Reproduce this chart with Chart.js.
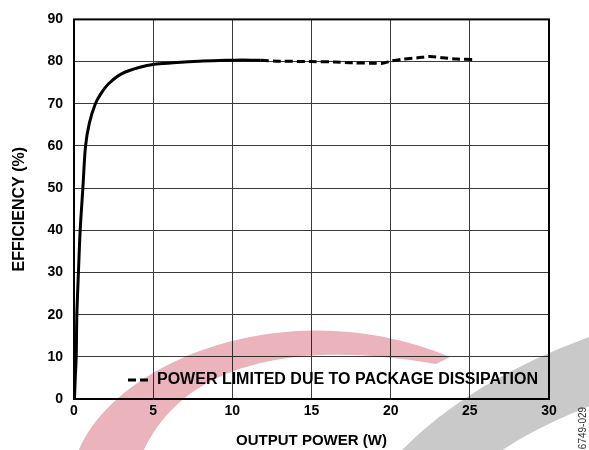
<!DOCTYPE html>
<html>
<head>
<meta charset="utf-8">
<script src="https://cdn.jsdelivr.net/npm/chart.js@4.4.0/dist/chart.umd.min.js"></script>
<style>
  html, body { margin: 0; padding: 0; background: #fff; }
  #wrap { width: 589px; height: 450px; }
</style>
</head>
<body>
<div id="wrap"><canvas id="myChart" width="589" height="450"></canvas></div>
<script>
// Valores (potência em W, eficiência em %)
const potenciaNormal = [0.03, 0.08, 0.14, 0.18, 0.28, 0.39, 0.56, 0.73, 0.97, 1.35, 1.7, 2.2, 3.0, 4.1, 5.2, 6.5, 7.9, 9.6, 10.6, 11.8];
const eficienciaNormal = [0, 5, 10, 20, 30, 40, 50, 60, 65.4, 70, 72.4, 74.8, 77.1, 78.6, 79.4, 79.8, 80.1, 80.3, 80.4, 80.3];

const potenciaLimitada = [11.8, 13, 15, 16.5, 17.6, 19, 19.5, 20, 20.8, 21.7, 22.5, 23.3, 24.2, 25.2];
const eficienciaLimitada = [80.3, 80.1, 80.0, 79.9, 79.7, 79.6, 79.6, 80.1, 80.6, 80.9, 81.2, 80.9, 80.6, 80.5];

const ticksX = [0, 5, 10, 15, 20, 25, 30];
const ticksY = [0, 10, 20, 30, 40, 50, 60, 70, 80, 90];

const tituloX = 'OUTPUT POWER (W)';
const tituloY = 'EFFICIENCY (%)';
const legendaTexto = 'POWER LIMITED DUE TO PACKAGE DISSIPATION';
const codigoFigura = '6749-029';

function juntar(xs, ys) {
  return xs.map((x, i) => ({ x: x, y: ys[i] }));
}

// Moldura, legenda dentro do gráfico, código da figura e marca d'água
const extras = {
  id: 'extras',
  afterDraw(chart) {
    const ctx = chart.ctx;
    const a = chart.chartArea;
    ctx.save();
    ctx.strokeStyle = '#000';
    ctx.lineWidth = 2;
    ctx.strokeRect(a.left, a.top, a.right - a.left, a.bottom - a.top);

    // legenda
    const ly = chart.scales.y.getPixelForValue(4.5);
    ctx.lineWidth = 3;
    ctx.setLineDash([8, 4]);
    ctx.beginPath();
    ctx.moveTo(128, ly);
    ctx.lineTo(151, ly);
    ctx.stroke();
    ctx.setLineDash([]);
    ctx.fillStyle = '#000';
    ctx.font = 'bold 16px "Liberation Sans", Arial, sans-serif';
    ctx.textBaseline = 'middle';
    ctx.textAlign = 'left';
    ctx.fillText(legendaTexto, 157, ly);

    // código
    ctx.translate(583, 428);
    ctx.rotate(-Math.PI / 2);
    ctx.font = '10px "Liberation Sans", Arial, sans-serif';
    ctx.fillStyle = '#333';
    ctx.textAlign = 'center';
    ctx.fillText(codigoFigura, 0, 0);
    ctx.restore();

    // marca d'água
    ctx.save();
    ctx.globalCompositeOperation = 'multiply';
    ctx.fillStyle = '#ebb3bc';
    ctx.beginPath();
    ctx.moveTo(78, 452);
    ctx.bezierCurveTo(115, 360, 290, 290, 450, 357);
    ctx.lineTo(436, 364);
    ctx.bezierCurveTo(300, 340, 185, 360, 143, 452);
    ctx.closePath();
    ctx.fill();
    ctx.fillStyle = '#c9c9c9';
    ctx.beginPath();
    ctx.moveTo(400, 452);
    ctx.quadraticCurveTo(470, 380, 592, 336);
    ctx.lineTo(592, 405);
    ctx.quadraticCurveTo(530, 430, 500, 452);
    ctx.closePath();
    ctx.fill();
    ctx.restore();
  }
};

const ctx = document.getElementById('myChart').getContext('2d');
const fonteTick = { family: '"Liberation Sans", Arial, sans-serif', size: 14, weight: 'bold' };

const grafico = new Chart(ctx, {
  type: 'line',
  data: {
    datasets: [{
      label: 'Efficiency',
      data: juntar(potenciaNormal, eficienciaNormal),
      borderColor: '#000',
      borderWidth: 3,
      pointRadius: 0,
      tension: 0.3,
      fill: false
    }, {
      label: legendaTexto,
      data: juntar(potenciaLimitada, eficienciaLimitada),
      borderColor: '#000',
      borderWidth: 3,
      borderDash: [8, 4],
      pointRadius: 0,
      tension: 0.3,
      fill: false
    }]
  },
  options: {
    responsive: false,
    animation: false,
    layout: { padding: { top: 14, right: 40, left: 0, bottom: 0 } },
    plugins: {
      legend: { display: false },
      tooltip: { enabled: false }
    },
    scales: {
      x: {
        type: 'linear',
        min: 0,
        max: 30,
        afterBuildTicks: (s) => { s.ticks = ticksX.map(v => ({ value: v })); },
        afterFit: (s) => { s.height = 51; },
        grid: { color: '#3a3a3a', lineWidth: 1, drawTicks: false },
        border: { display: false },
        ticks: { color: '#000', font: fonteTick, padding: 4, maxRotation: 0 },
        title: {
          display: true,
          text: tituloX,
          color: '#000',
          font: { family: '"Liberation Sans", Arial, sans-serif', size: 15, weight: 'bold' },
          padding: { top: 0, bottom: 0 }
        }
      },
      y: {
        min: 0,
        max: 90,
        afterBuildTicks: (s) => { s.ticks = ticksY.map(v => ({ value: v })); },
        afterFit: (s) => { s.width = 74; },
        grid: { color: '#3a3a3a', lineWidth: 1, drawTicks: false },
        border: { display: false },
        ticks: { color: '#000', font: fonteTick, padding: 11 },
        title: {
          display: true,
          text: tituloY,
          color: '#000',
          font: { family: '"Liberation Sans", Arial, sans-serif', size: 16, weight: 'bold' },
          padding: { top: 10, bottom: 0 }
        }
      }
    }
  },
  plugins: [extras]
});
</script>
</body>
</html>
